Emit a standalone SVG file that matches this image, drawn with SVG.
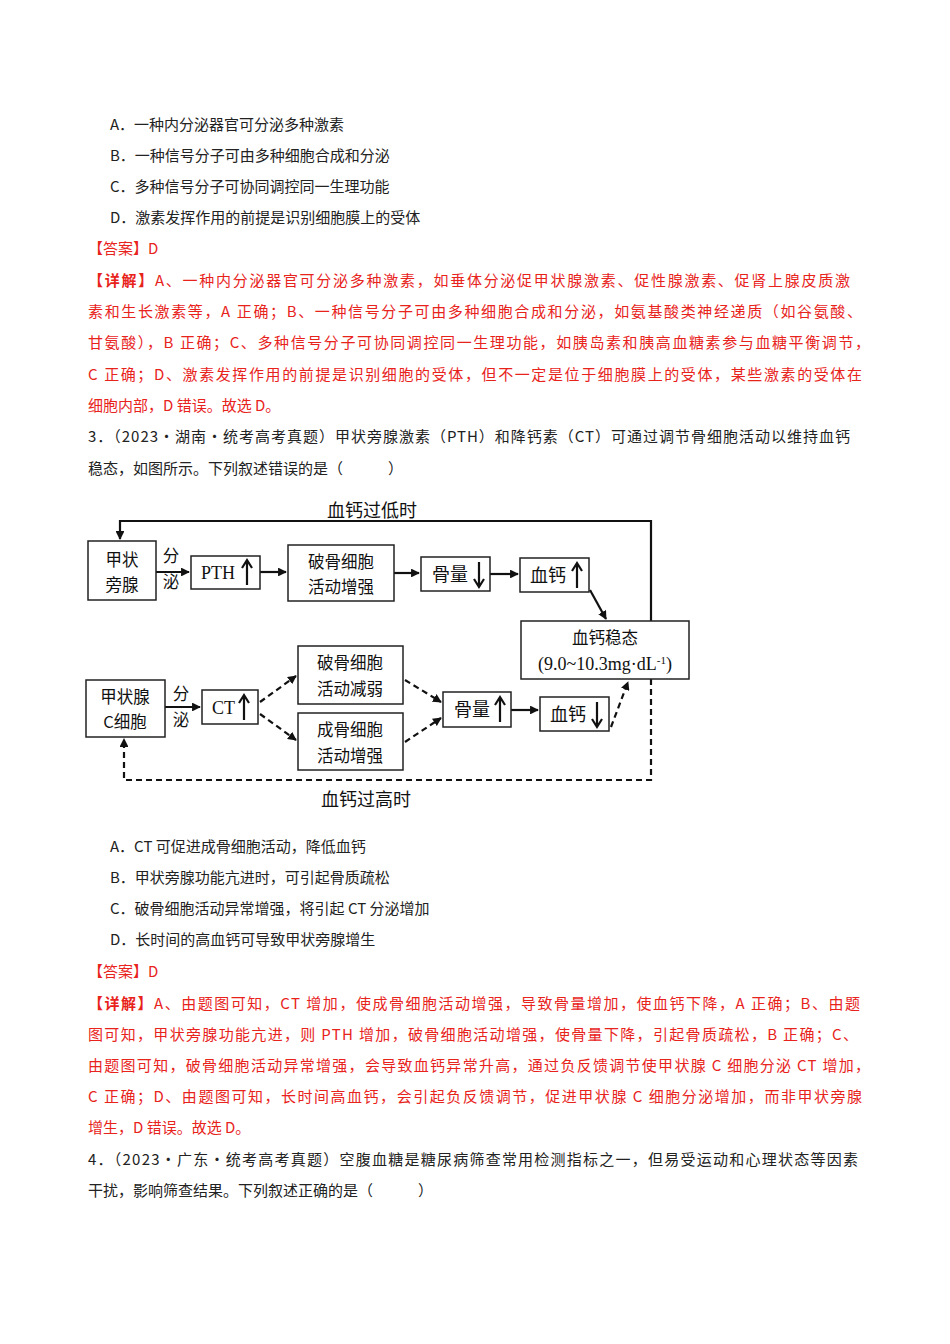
<svg xmlns="http://www.w3.org/2000/svg" width="950" height="1344" viewBox="0 0 950 1344">
<defs>
<style>
.t{font-family:"Noto Sans CJK SC","Liberation Sans",sans-serif;font-size:15px;fill:#222}
.r{fill:#e8231c}
.b{fill:#fff;stroke:#222;stroke-width:1.5}
.d{font-family:"Noto Sans CJK SC",sans-serif;font-size:18px;fill:#111}
.m{font-size:16.5px}
.s{font-family:"Liberation Serif","Noto Sans CJK SC",serif;font-size:18px;fill:#111}
.l{fill:none;stroke:#111;stroke-width:2.2}
.dash{stroke-dasharray:6,4}
</style>
<marker id="a" viewBox="0 0 10 10" refX="9" refY="5" markerWidth="4" markerHeight="4" orient="auto"><path d="M0,0L10,5L0,10z" fill="#111"/></marker>
</defs>
<rect width="950" height="1344" fill="#fff"/>
<g id="text">
<text class="t" x="110" y="130">A．一种内分泌器官可分泌多种激素</text>
<text class="t" x="110" y="161">B．一种信号分子可由多种细胞合成和分泌</text>
<text class="t" x="110" y="192">C．多种信号分子可协同调控同一生理功能</text>
<text class="t" x="110" y="223">D．激素发挥作用的前提是识别细胞膜上的受体</text>
<text class="t r" x="88" y="254">【答案】D</text>
<text class="t r" x="88" y="286" textLength="762" lengthAdjust="spacing"><tspan font-weight="bold">【详解】</tspan>A、一种内分泌器官可分泌多种激素，如垂体分泌促甲状腺激素、促性腺激素、促肾上腺皮质激</text>
<text class="t r" x="88" y="317" textLength="774" lengthAdjust="spacing">素和生长激素等，A 正确；B、一种信号分子可由多种细胞合成和分泌，如氨基酸类神经递质（如谷氨酸、</text>
<text class="t r" x="88" y="348" textLength="782" lengthAdjust="spacing">甘氨酸），B 正确；C、多种信号分子可协同调控同一生理功能，如胰岛素和胰高血糖素参与血糖平衡调节，</text>
<text class="t r" x="88" y="380" textLength="774" lengthAdjust="spacing">C 正确；D、激素发挥作用的前提是识别细胞的受体，但不一定是位于细胞膜上的受体，某些激素的受体在</text>
<text class="t r" x="88" y="411">细胞内部，D 错误。故选 D。</text>
<text class="t" x="88" y="442" textLength="762" lengthAdjust="spacing">3．（2023·湖南·统考高考真题）甲状旁腺激素（PTH）和降钙素（CT）可通过调节骨细胞活动以维持血钙</text>
<text class="t" x="88" y="474">稳态，如图所示。下列叙述错误的是（　　　）</text>
<text class="t" x="110" y="852">A．CT 可促进成骨细胞活动，降低血钙</text>
<text class="t" x="110" y="883">B．甲状旁腺功能亢进时，可引起骨质疏松</text>
<text class="t" x="110" y="914">C．破骨细胞活动异常增强，将引起 CT 分泌增加</text>
<text class="t" x="110" y="945">D．长时间的高血钙可导致甲状旁腺增生</text>
<text class="t r" x="88" y="977">【答案】D</text>
<text class="t r" x="88" y="1009" textLength="772" lengthAdjust="spacing"><tspan font-weight="bold">【详解】</tspan>A、由题图可知，CT 增加，使成骨细胞活动增强，导致骨量增加，使血钙下降，A 正确；B、由题</text>
<text class="t r" x="88" y="1040" textLength="770" lengthAdjust="spacing">图可知，甲状旁腺功能亢进，则 PTH 增加，破骨细胞活动增强，使骨量下降，引起骨质疏松，B 正确；C、</text>
<text class="t r" x="88" y="1071" textLength="782" lengthAdjust="spacing">由题图可知，破骨细胞活动异常增强，会导致血钙异常升高，通过负反馈调节使甲状腺 C 细胞分泌 CT 增加，</text>
<text class="t r" x="88" y="1102" textLength="774" lengthAdjust="spacing">C 正确；D、由题图可知，长时间高血钙，会引起负反馈调节，促进甲状腺 C 细胞分泌增加，而非甲状旁腺</text>
<text class="t r" x="88" y="1133">增生，D 错误。故选 D。</text>
<text class="t" x="88" y="1165" textLength="770" lengthAdjust="spacing">4．（2023·广东·统考高考真题）空腹血糖是糖尿病筛查常用检测指标之一，但易受运动和心理状态等因素</text>
<text class="t" x="88" y="1196">干扰，影响筛查结果。下列叙述正确的是（　　　）</text>
</g>
<g id="connectors">
<path class="l" d="M651,621V521H120V539" marker-end="url(#a)"/>
<path class="l" d="M156,572H189" marker-end="url(#a)"/>
<path class="l" d="M260,572H286" marker-end="url(#a)"/>
<path class="l" d="M394,573H419" marker-end="url(#a)"/>
<path class="l" d="M490,574H518" marker-end="url(#a)"/>
<path class="l" d="M590,590L606,619" marker-end="url(#a)"/>
<path class="l" d="M165,707H200" marker-end="url(#a)"/>
<path class="l dash" d="M260,702L296,676" marker-end="url(#a)"/>
<path class="l dash" d="M260,714L296,740" marker-end="url(#a)"/>
<path class="l dash" d="M405,680L441,702" marker-end="url(#a)"/>
<path class="l dash" d="M405,742L441,718" marker-end="url(#a)"/>
<path class="l" d="M511,710H538" marker-end="url(#a)"/>
<path class="l dash" d="M611,727L628,682" marker-end="url(#a)"/>
<path class="l dash" d="M651,679V780H124V739" marker-end="url(#a)"/>
<text class="d" x="372" y="517" text-anchor="middle">血钙过低时</text>
<text class="d" x="366" y="806" text-anchor="middle">血钙过高时</text>
<text class="d m" x="171" y="562" text-anchor="middle">分</text>
<text class="d m" x="171" y="588" text-anchor="middle">泌</text>
<text class="d m" x="181" y="700" text-anchor="middle">分</text>
<text class="d m" x="181" y="726" text-anchor="middle">泌</text>
</g>
<g id="n1"><rect class="b" x="88" y="541" width="68" height="59"/><text class="d m" x="122" y="566" text-anchor="middle">甲状</text><text class="d m" x="122" y="591" text-anchor="middle">旁腺</text></g>
<g id="n2"><rect class="b" x="191" y="556" width="69" height="33"/><text class="s" x="201" y="579">PTH</text><path class="l" d="M247,585V562M242,568L247,560L252,568"/></g>
<g id="n3"><rect class="b" x="288" y="545" width="106" height="56"/><text class="d m" x="341" y="568" text-anchor="middle">破骨细胞</text><text class="d m" x="341" y="593" text-anchor="middle">活动增强</text></g>
<g id="n4"><rect class="b" x="421" y="557" width="69" height="34"/><text class="d" x="432" y="581">骨量</text><path class="l" d="M479,562V585M474,579L479,587L484,579"/></g>
<g id="n5"><rect class="b" x="520" y="558" width="69" height="34"/><text class="d" x="530" y="582">血钙</text><path class="l" d="M577,588V565M572,571L577,563L582,571"/></g>
<g id="n6"><rect class="b" x="521" y="621" width="168" height="58"/><text class="d m" x="605" y="644" text-anchor="middle">血钙稳态</text><text class="s" x="605" y="670" text-anchor="middle" font-size="17">(9.0~10.3mg·dL<tspan baseline-shift="super" font-size="11">-1</tspan>)</text></g>
<g id="n7"><rect class="b" x="86" y="680" width="79" height="57"/><text class="d m" x="125" y="703" text-anchor="middle">甲状腺</text><text class="d m" x="125" y="728" text-anchor="middle">C细胞</text></g>
<g id="n8"><rect class="b" x="202" y="690" width="56" height="34"/><text class="s" x="212" y="714">CT</text><path class="l" d="M244,720V697M239,703L244,695L249,703"/></g>
<g id="n9"><rect class="b" x="298" y="646" width="105" height="58"/><text class="d m" x="350" y="669" text-anchor="middle">破骨细胞</text><text class="d m" x="350" y="695" text-anchor="middle">活动减弱</text></g>
<g id="n10"><rect class="b" x="298" y="713" width="105" height="57"/><text class="d m" x="350" y="736" text-anchor="middle">成骨细胞</text><text class="d m" x="350" y="762" text-anchor="middle">活动增强</text></g>
<g id="n11"><rect class="b" x="443" y="692" width="68" height="35"/><text class="d" x="454" y="716">骨量</text><path class="l" d="M500,722V699M495,705L500,697L505,705"/></g>
<g id="n12"><rect class="b" x="540" y="697" width="69" height="34"/><text class="d" x="550" y="721">血钙</text><path class="l" d="M597,702V725M592,719L597,727L602,719"/></g>
</svg>
